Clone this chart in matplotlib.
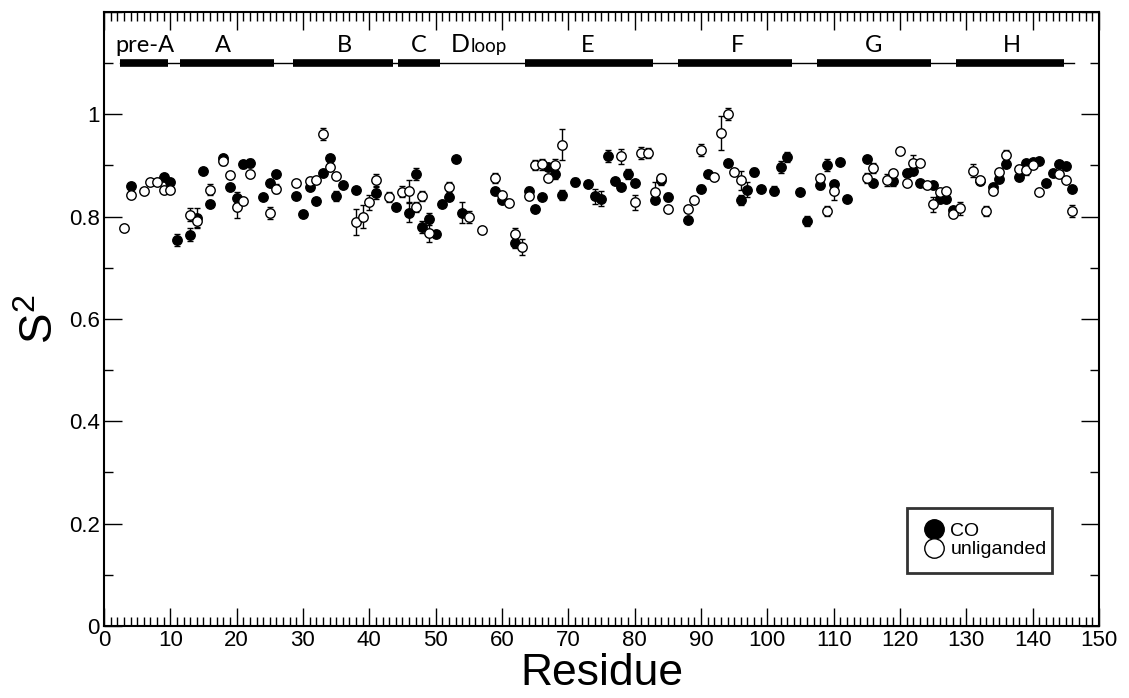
import numpy as np
import matplotlib
matplotlib.use("Agg")
import matplotlib.pyplot as plt
from matplotlib.lines import Line2D
from matplotlib.ticker import MultipleLocator, FuncFormatter

plt.rcParams["font.family"] = ["Liberation Sans", "DejaVu Sans"]
plt.rcParams["mathtext.fontset"] = "custom"
plt.rcParams["mathtext.rm"] = "Liberation Sans"

## DATA ##
co_res = [4, 9, 10, 11, 13, 14, 15, 16, 18, 19, 20, 21, 22, 24, 25, 26, 29, 30, 31, 32,
          33, 34, 35, 36, 38, 41, 44, 46, 47, 48, 49, 50, 51, 52, 53, 54, 59, 60, 62, 64,
          65, 66, 67, 68, 69, 71, 73, 74, 75, 76, 77, 78, 79, 80, 83, 84, 85, 88, 90, 91,
          94, 96, 97, 98, 99, 101, 102, 103, 105, 106, 108, 109, 110, 111, 112, 115, 116, 119, 121, 122,
          123, 125, 126, 127, 128, 132, 134, 135, 136, 138, 139, 140, 141, 142, 143, 144, 145, 146]
co_s2 = [0.860, 0.877, 0.867, 0.754, 0.765, 0.797, 0.889, 0.824, 0.915, 0.858, 0.836, 0.902, 0.905, 0.838, 0.866, 0.884, 0.840, 0.806, 0.858, 0.830,
         0.885, 0.914, 0.840, 0.862, 0.852, 0.846, 0.819, 0.808, 0.884, 0.780, 0.796, 0.767, 0.824, 0.839, 0.912, 0.808, 0.850, 0.832, 0.749, 0.851,
         0.814, 0.839, 0.897, 0.884, 0.842, 0.867, 0.863, 0.840, 0.835, 0.919, 0.869, 0.858, 0.884, 0.866, 0.832, 0.871, 0.838, 0.793, 0.855, 0.884,
         0.905, 0.832, 0.853, 0.887, 0.855, 0.851, 0.897, 0.916, 0.849, 0.791, 0.861, 0.901, 0.863, 0.907, 0.834, 0.913, 0.865, 0.870, 0.886, 0.889,
         0.865, 0.862, 0.834, 0.835, 0.813, 0.869, 0.858, 0.873, 0.903, 0.877, 0.905, 0.906, 0.908, 0.866, 0.885, 0.903, 0.899, 0.854]
co_err = [0.006, 0.005, 0.006, 0.012, 0.012, 0.020, 0.006, 0.006, 0.006, 0.006, 0.012, 0.006, 0.008, 0.005, 0.005, 0.006, 0.006, 0.006, 0.005, 0.006,
          0.006, 0.006, 0.010, 0.005, 0.005, 0.012, 0.005, 0.018, 0.012, 0.012, 0.012, 0.005, 0.005, 0.006, 0.005, 0.020, 0.006, 0.006, 0.010, 0.006,
          0.005, 0.006, 0.006, 0.010, 0.010, 0.008, 0.006, 0.015, 0.015, 0.012, 0.005, 0.005, 0.010, 0.006, 0.005, 0.010, 0.008, 0.006, 0.006, 0.006,
          0.006, 0.010, 0.015, 0.008, 0.005, 0.008, 0.012, 0.010, 0.006, 0.010, 0.006, 0.012, 0.006, 0.005, 0.005, 0.005, 0.006, 0.010, 0.005, 0.005,
          0.005, 0.005, 0.006, 0.006, 0.006, 0.005, 0.005, 0.006, 0.006, 0.005, 0.005, 0.005, 0.005, 0.005, 0.005, 0.005, 0.006, 0.006]

unl_res = [3, 4, 6, 7, 8, 9, 10, 13, 14, 16, 18, 19, 20, 21, 22, 25, 26, 29, 31, 32,
           33, 34, 35, 38, 39, 40, 41, 43, 45, 46, 47, 48, 49, 52, 55, 57, 59, 60, 61, 62,
           63, 64, 65, 66, 67, 68, 69, 78, 80, 81, 82, 83, 84, 85, 88, 89, 90, 92, 93, 94,
           95, 96, 108, 109, 110, 115, 116, 118, 119, 120, 121, 122, 123, 124, 125, 126, 127, 128, 129, 131,
           132, 133, 134, 135, 136, 138, 139, 140, 141, 144, 145, 146]
unl_s2 = [0.777, 0.842, 0.851, 0.867, 0.868, 0.853, 0.853, 0.804, 0.791, 0.853, 0.908, 0.882, 0.819, 0.830, 0.884, 0.807, 0.855, 0.866, 0.870, 0.872,
          0.962, 0.897, 0.879, 0.790, 0.800, 0.828, 0.871, 0.839, 0.849, 0.850, 0.819, 0.840, 0.769, 0.858, 0.799, 0.773, 0.875, 0.843, 0.827, 0.766,
          0.741, 0.840, 0.901, 0.902, 0.876, 0.900, 0.941, 0.918, 0.828, 0.925, 0.925, 0.849, 0.876, 0.815, 0.814, 0.833, 0.930, 0.877, 0.964, 1.001,
          0.887, 0.871, 0.876, 0.811, 0.850, 0.875, 0.895, 0.871, 0.885, 0.928, 0.865, 0.905, 0.905, 0.862, 0.824, 0.848, 0.850, 0.806, 0.816, 0.890,
          0.871, 0.811, 0.851, 0.887, 0.921, 0.893, 0.891, 0.900, 0.848, 0.884, 0.871, 0.811]
unl_err = [0.005, 0.006, 0.005, 0.005, 0.005, 0.005, 0.005, 0.012, 0.012, 0.010, 0.008, 0.005, 0.022, 0.005, 0.006, 0.012, 0.008, 0.005, 0.006, 0.005,
           0.012, 0.006, 0.005, 0.025, 0.022, 0.015, 0.012, 0.010, 0.010, 0.022, 0.010, 0.010, 0.018, 0.010, 0.012, 0.005, 0.010, 0.006, 0.005, 0.012,
           0.015, 0.006, 0.010, 0.010, 0.006, 0.012, 0.030, 0.015, 0.015, 0.012, 0.010, 0.018, 0.008, 0.005, 0.005, 0.005, 0.012, 0.005, 0.033, 0.012,
           0.005, 0.018, 0.006, 0.010, 0.018, 0.010, 0.010, 0.012, 0.006, 0.005, 0.005, 0.015, 0.006, 0.005, 0.015, 0.006, 0.006, 0.005, 0.012, 0.012,
           0.006, 0.010, 0.006, 0.006, 0.010, 0.006, 0.010, 0.005, 0.005, 0.006, 0.006, 0.012]

# secondary structure (helix start, end) and labels
helix_names = ["pre-A", "A", "B", "C", "E", "F", "G", "H"]
helix_start = [2.4, 11.5, 28.5, 44.4, 63.5, 86.5, 107.5, 128.5]
helix_end = [9.7, 25.6, 43.6, 50.7, 82.7, 103.7, 124.7, 144.8]
label_x = [6.2, 18.0, 36.3, 47.4, 72.9, 95.5, 116.0, 136.9]
ss_range = [2.4, 146.2]
ss_y = 1.1

fig = plt.figure(figsize=(11.29, 6.98), dpi=100)
ax = fig.add_axes([0.0921, 0.1032, 0.8813, 0.8796])

## points ##
ax.errorbar(co_res, co_s2, yerr=co_err, fmt="o", ms=6.8, mfc="black", mec="black",
            mew=1.0, ecolor="black", elinewidth=1.0, capsize=2, capthick=1.0, zorder=3)
ax.errorbar(unl_res, unl_s2, yerr=unl_err, fmt="o", ms=6.8, mfc="white", mec="black",
            mew=1.0, ecolor="black", elinewidth=1.0, capsize=2, capthick=1.0, zorder=4)

## secondary structure bar ##
ax.plot(ss_range, [ss_y, ss_y], color="black", lw=1.0, zorder=2)
for s, e in zip(helix_start, helix_end):
    ax.plot([s, e], [ss_y, ss_y], color="black", lw=5.5, solid_capstyle="butt", zorder=2)
for name, x in zip(helix_names, label_x):
    ax.text(x, 1.121, name, ha="center", va="baseline", fontsize=17, family=["Lato", "DejaVu Sans"])
ax.text(55.2, 1.121, "D", ha="right", va="baseline", fontsize=18, family=["Lato", "DejaVu Sans"])
ax.text(55.3, 1.121, "loop", ha="left", va="baseline", fontsize=13.5, family=["Lato", "DejaVu Sans"])

## axes ##
ax.set_xlim(0, 150)
ax.set_ylim(0, 1.2)
ax.xaxis.set_major_locator(MultipleLocator(10))
ax.xaxis.set_minor_locator(MultipleLocator(1))
ax.yaxis.set_major_locator(MultipleLocator(0.2))
ax.yaxis.set_minor_locator(MultipleLocator(0.1))
ax.yaxis.set_major_formatter(FuncFormatter(lambda v, p: "%g" % round(v, 3) if v < 1.1 else ""))
ax.tick_params(which="both", direction="in", top=True, right=True, labelsize=16, width=1.0)
ax.tick_params(which="major", length=13, pad=3)
ax.tick_params(which="minor", length=6.5)
for sp in ax.spines.values():
    sp.set_linewidth(1.5)

ax.set_xlabel("Residue", fontsize=32, labelpad=1)
ax.set_ylabel(r"S$^{\mathrm{2}}$", fontsize=33, labelpad=4)

## legend ##
handles = [Line2D([], [], ls="none", marker="o", ms=14, mfc="black", mec="black", mew=1.0),
           Line2D([], [], ls="none", marker="o", ms=14, mfc="white", mec="black", mew=1.0)]
leg = ax.legend(handles, ["CO", "unliganded"], loc="lower left", bbox_to_anchor=(0.797, 0.0705, 0.166, 0.1185),
                mode="expand", fontsize=14, frameon=True, fancybox=False, handletextpad=0.2,
                handlelength=1.3, labelspacing=0.05, borderpad=0.75)
leg.get_frame().set_edgecolor("black")
leg.get_frame().set_linewidth(2.0)

fig.savefig("out.png", dpi=100)
